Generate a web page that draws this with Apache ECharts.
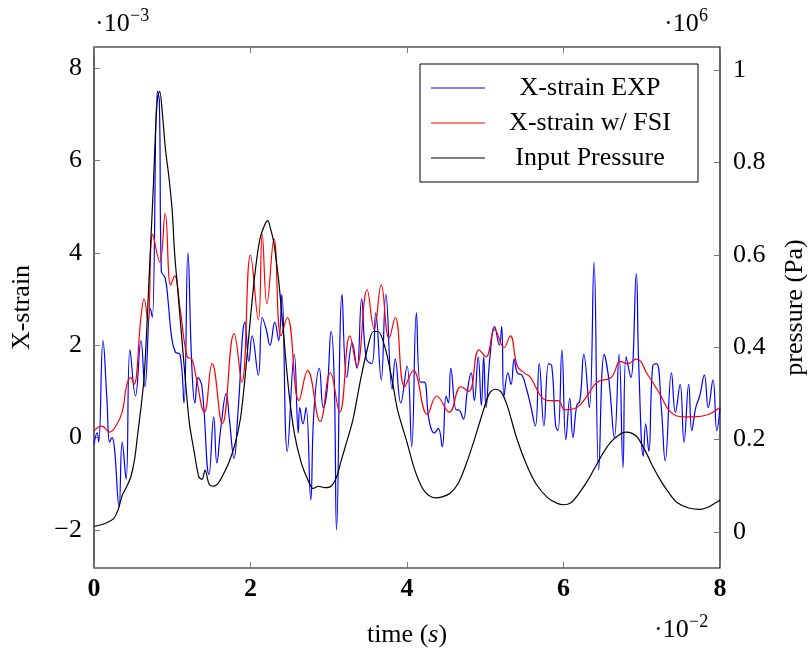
<!DOCTYPE html>
<html>
<head>
<meta charset="utf-8">
<script src="https://cdn.jsdelivr.net/npm/echarts@6.0.0/dist/echarts.min.js"></script>
<style>
  html, body { margin: 0; padding: 0; background: #fff; }
  #chart { width: 812px; height: 656px; }
</style>
</head>
<body>
<div id="chart"></div>
<script>
// time in 1e-2 s, strain in 1e-3, pressure in 1e6 Pa
var timeExp = [0, 0.04, 0.06, 0.115, 0.166, 0.2, 0.23, 0.26, 0.32, 0.36,
    0.41, 0.46, 0.53, 0.6, 0.65, 0.72, 0.745, 0.81, 0.835, 0.86,
    0.91, 0.95, 0.99, 1.04, 1.1, 1.15, 1.2, 1.25, 1.29, 1.33,
    1.38, 1.47, 1.53, 1.57, 1.62, 1.69, 1.73, 1.79, 1.84, 1.93,
    1.98, 2.02, 2.1, 2.15, 2.2, 2.25, 2.31, 2.36, 2.4, 2.47,
    2.56, 2.61, 2.63, 2.67, 2.71, 2.77, 2.81, 2.88, 2.93, 2.98,
    3.03, 3.07, 3.1, 3.17, 3.23, 3.3, 3.36, 3.42, 3.48, 3.55,
    3.6, 3.67, 3.73, 3.81, 3.85, 3.92, 4.0, 4.06, 4.12, 4.17,
    4.22, 4.28, 4.35, 4.4, 4.45, 4.5, 4.53, 4.56, 4.63, 4.66,
    4.72, 4.77, 4.82, 4.86, 4.91, 4.95, 4.98, 5.01, 5.06, 5.12,
    5.18, 5.21, 5.24, 5.29, 5.33, 5.37, 5.41, 5.47, 5.52, 5.58,
    5.64, 5.69, 5.75, 5.81, 5.85, 5.9, 5.93, 5.98, 6.03, 6.08,
    6.12, 6.17, 6.21, 6.26, 6.33, 6.39, 6.45, 6.52, 6.58, 6.65,
    6.71, 6.76, 6.8, 6.86, 6.93, 6.96, 7.02, 7.05, 7.09, 7.14,
    7.19, 7.25, 7.3, 7.38, 7.43, 7.49, 7.54, 7.6, 7.64, 7.69,
    7.74, 7.8, 7.85, 7.91, 7.96, 8.0];
var strainExp = [-0.15, 0.1, -0.1, 2.1, 0.8, -0.1, 0.0, -0.2, -1.5, -0.1,
    -0.9, 1.9, 0.9, 2.1, 1.1, 2.8, 2.6, 7.5, 7.3, 3.6,
    3.45, 2.9, 2.2, 1.85, 1.8, 0.75, 4.0, 1.55, 0.75, 1.3,
    1.1, -0.8, 0.45, -0.55, 0.2, 0.95, 0.4, -0.45, 0.55, 2.5,
    1.65, 2.2, 1.35, 2.6, 2.35, 2.0, 2.5, 2.1, 3.1, -0.3,
    1.8, 0.1, 0.65, 0.3, 0.65, -1.35, 0.55, 1.5, 0.65, 1.05,
    2.3, 1.25, -2.0, 3.1, 1.3, 2.05, 1.5, 3.0, 1.7, 1.6,
    2.7, 1.25, 3.1, 1.05, 1.7, 0.75, 1.55, -0.2, 2.7, 1.2,
    1.2, 0.4, 0.1, 0.2, -0.2, 0.9, 0.75, 1.5, 0.6, 0.6,
    0.4, 1.0, 1.4, 0.8, 1.75, 0.7, 1.75, 0.65, 1.75, 2.4,
    2.0, 2.4, 0.9, 1.4, 1.15, 1.7, 1.4, 1.35, 1.1, 0.7,
    0.25, 1.6, 0.25, 1.6, 1.55, 0.25, 0.15, 1.9, -0.05, 0.85,
    0.0, 0.7, 0.8, 1.8, 0.65, 3.8, -0.7, 1.8, 1.25, 0.0,
    1.8, -0.65, 1.75, 1.3, 3.55, 1.65, -0.4, 0.3, -0.3, 1.55,
    1.6, 0.65, -0.5, 1.4, 0.55, 1.15, -0.1, 1.15, 0.15, 0.65,
    0.9, 1.35, 0.65, 1.25, 0.15, 0.65];

var timeFsi = [0, 0.1, 0.2, 0.28, 0.36, 0.42, 0.47, 0.51, 0.6, 0.64,
    0.69, 0.75, 0.84, 0.91, 0.98, 1.03, 1.1, 1.19, 1.25, 1.3,
    1.41, 1.51, 1.64, 1.79, 1.89, 2.0, 2.1, 2.15, 2.21, 2.3,
    2.39, 2.47, 2.62, 2.73, 2.89, 3.02, 3.14, 3.27, 3.36, 3.49,
    3.58, 3.67, 3.77, 3.85, 3.97, 4.08, 4.26, 4.38, 4.54, 4.69,
    4.79, 4.92, 5.01, 5.12, 5.24, 5.32, 5.41, 5.5, 5.58, 5.71,
    5.8, 5.93, 6.02, 6.17, 6.3, 6.43, 6.61, 6.73, 6.82, 6.93,
    7.08, 7.23, 7.37, 7.54, 7.67, 7.85, 8.0];
var strainFsi = [0.15, 0.25, 0.12, 0.25, 0.55, 1.15, 1.3, 1.15, 2.6, 3.0,
    2.5, 4.4, 3.8, 4.85, 3.3, 3.5, 2.8, 1.75, 1.7, 1.35,
    0.55, 1.6, 0.3, 2.25, 1.2, 3.95, 2.55, 4.4, 2.9, 4.3,
    2.2, 2.6, 0.8, 1.45, 0.35, 1.4, 0.55, 2.2, 1.55, 3.2,
    2.35, 3.3, 2.15, 2.6, 1.1, 1.45, 0.5, 0.9, 0.55, 1.1,
    1.0, 1.9, 1.75, 2.35, 1.95, 2.2, 1.55, 1.4, 1.3, 0.9,
    0.8, 0.8, 0.6, 0.65, 0.9, 1.2, 1.3, 1.65, 1.6, 1.7,
    1.35, 0.95, 0.55, 0.45, 0.45, 0.5, 0.65];

var timePressure = [0, 0.15, 0.25, 0.31, 0.36, 0.42, 0.47, 0.52, 0.56, 0.6,
    0.64, 0.67, 0.7, 0.73, 0.76, 0.79, 0.815, 0.84, 0.87, 0.91,
    0.96, 1.0, 1.03, 1.07, 1.12, 1.17, 1.22, 1.28, 1.34, 1.38,
    1.42, 1.47, 1.52, 1.58, 1.65, 1.72, 1.8, 1.87, 1.93, 2.0,
    2.06, 2.12, 2.18, 2.22, 2.26, 2.3, 2.36, 2.43, 2.49, 2.56,
    2.65, 2.73, 2.8, 2.87, 2.95, 3.03, 3.1, 3.15, 3.21, 3.31,
    3.4, 3.49, 3.57, 3.63, 3.72, 3.81, 3.88, 4.0, 4.1, 4.2,
    4.28, 4.36, 4.45, 4.55, 4.65, 4.75, 4.85, 4.95, 5.05,
    5.12, 5.2, 5.28, 5.4, 5.52, 5.65, 5.8, 5.92, 6.0, 6.1,
    6.2, 6.3, 6.4, 6.5, 6.6, 6.7, 6.8, 6.87, 6.95, 7.05,
    7.15, 7.25, 7.35, 7.45, 7.6, 7.75, 7.85, 7.95, 8.0];
var pressure = [0.012, 0.019, 0.029, 0.049, 0.079, 0.099, 0.119, 0.159, 0.214, 0.269,
    0.334, 0.424, 0.534, 0.644, 0.754, 0.884, 0.944, 0.954, 0.914, 0.834,
    0.764, 0.694, 0.604, 0.524, 0.424, 0.324, 0.234, 0.174, 0.119, 0.114,
    0.134, 0.104, 0.099, 0.104, 0.124, 0.149, 0.189, 0.244, 0.334, 0.464,
    0.564, 0.634, 0.664, 0.674, 0.654, 0.624, 0.544, 0.414, 0.304, 0.214,
    0.149, 0.114, 0.094, 0.099, 0.096, 0.099, 0.119, 0.149, 0.184, 0.244,
    0.324, 0.394, 0.434, 0.434, 0.399, 0.329, 0.264, 0.194, 0.134, 0.094,
    0.079, 0.074, 0.076, 0.084, 0.104, 0.144, 0.194, 0.249, 0.299,
    0.309, 0.304, 0.274, 0.204, 0.149, 0.104, 0.074, 0.062, 0.059, 0.064,
    0.084, 0.109, 0.139, 0.169, 0.194, 0.209, 0.216, 0.214, 0.204, 0.174,
    0.139, 0.109, 0.084, 0.064, 0.052, 0.049, 0.054, 0.064, 0.069];

var xTicks = [0, 2, 4, 6, 8];
var strainTicks = [-2, 0, 2, 4, 6, 8];
var pressureTicks = [0, 0.2, 0.4, 0.6, 0.8, 1];
var seriesNames = ['X-strain EXP', 'X-strain w/ FSI', 'Input Pressure'];

function pairs(xs, ys) {
    var out = [];
    for (var i = 0; i < xs.length; i++) out.push([xs[i], ys[i]]);
    return out;
}
function fmt(v) {
    var s = String(Math.round(v * 1000) / 1000);
    return s.replace('-', '\u2212');
}

var FONT = 'Liberation Serif';
var tickStyle = { inside: true, length: 6, lineStyle: { color: '#777', width: 1 } };

var myChart = echarts.init(document.getElementById('chart'));
var option = {
    backgroundColor: '#fff',
    animation: false,
    grid: {
        left: 94, top: 47, width: 626, height: 521,
        outerBoundsMode: 'none',
        show: true, borderColor: '#000', borderWidth: 1.2
    },
    legend: {
        orient: 'vertical',
        left: 420, top: 64,
        padding: [9, 8, 9, 11],
        icon: 'rect',
        itemWidth: 54, itemHeight: 1.2, itemGap: 5,
        borderColor: '#000', borderWidth: 1, backgroundColor: '#fff',
        selectedMode: false,
        data: seriesNames,
        formatter: function (name) { return '{c|' + name + '}'; },
        textStyle: {
            fontFamily: FONT, fontSize: 26, color: '#000', lineHeight: 30,
            rich: { c: { width: 200, align: 'center', fontFamily: FONT, fontSize: 26, lineHeight: 30 } }
        }
    },
    xAxis: [
        {
            type: 'value', min: 0, max: 8, interval: 2, position: 'bottom',
            axisLine: { show: false, onZero: false }, splitLine: { show: false },
            axisTick: tickStyle,
            axisLabel: { fontFamily: FONT, fontSize: 26, color: '#000', fontWeight: 'bold', margin: 8,
                customValues: xTicks, formatter: fmt },
            name: '{n|time (}{i|s}{n|)}',
            nameLocation: 'middle', nameGap: 54,
            nameTextStyle: { rich: {
                n: { fontFamily: FONT, fontSize: 26, color: '#000' },
                i: { fontFamily: FONT, fontSize: 26, color: '#000', fontStyle: 'italic' }
            } }
        },
        {
            type: 'value', min: 0, max: 8, interval: 2, position: 'top',
            axisLine: { show: false, onZero: false }, splitLine: { show: false },
            axisTick: tickStyle, axisLabel: { show: false }
        }
    ],
    yAxis: [
        {
            type: 'value', min: -2.823, max: 8.455, position: 'left',
            axisLine: { show: false, onZero: false }, splitLine: { show: false },
            axisTick: { inside: true, length: 6, lineStyle: { color: '#777' }, customValues: strainTicks },
            axisLabel: { fontFamily: FONT, fontSize: 26, color: '#000', margin: 12,
                customValues: strainTicks, formatter: fmt },
            name: 'X-strain', nameLocation: 'middle', nameRotate: 90, nameGap: 59,
            nameTextStyle: { fontFamily: FONT, fontSize: 26, color: '#000' }
        },
        {
            type: 'value', min: -0.0779, max: 1.0498, position: 'right',
            axisLine: { show: false, onZero: false }, splitLine: { show: false },
            axisTick: { inside: true, length: 6, lineStyle: { color: '#777' }, customValues: pressureTicks },
            axisLabel: { fontFamily: FONT, fontSize: 26, color: '#000', margin: 13,
                customValues: pressureTicks, formatter: fmt },
            name: 'pressure (Pa)', nameLocation: 'middle', nameRotate: 90, nameGap: 62,
            nameTextStyle: { fontFamily: FONT, fontSize: 26, color: '#000' }
        }
    ],
    graphic: [
        { type: 'text', x: 95, y: 24, style: { text: '\u00b710', fontFamily: FONT, fontSize: 26, fill: '#000', textVerticalAlign: 'middle' } },
        { type: 'text', x: 130, y: 16, style: { text: '\u22123', fontFamily: FONT, fontSize: 18, fill: '#000', textVerticalAlign: 'middle' } },
        { type: 'text', x: 664, y: 24, style: { text: '\u00b710', fontFamily: FONT, fontSize: 26, fill: '#000', textVerticalAlign: 'middle' } },
        { type: 'text', x: 699, y: 16, style: { text: '6', fontFamily: FONT, fontSize: 18, fill: '#000', textVerticalAlign: 'middle' } },
        { type: 'text', x: 654, y: 630, style: { text: '\u00b710', fontFamily: FONT, fontSize: 26, fill: '#000', textVerticalAlign: 'middle' } },
        { type: 'text', x: 689, y: 622, style: { text: '\u22122', fontFamily: FONT, fontSize: 18, fill: '#000', textVerticalAlign: 'middle' } }
    ],
    series: [
        {
            name: seriesNames[0], type: 'line', xAxisIndex: 0, yAxisIndex: 0,
            data: pairs(timeExp, strainExp), symbol: 'none', smooth: 0.45,
            color: '#0000ff', lineStyle: { color: '#0000ff', width: 1.2 }
        },
        {
            name: seriesNames[1], type: 'line', xAxisIndex: 0, yAxisIndex: 0,
            data: pairs(timeFsi, strainFsi), symbol: 'none', smooth: 0.45,
            color: '#ff0000', lineStyle: { color: '#ff0000', width: 1.2 }
        },
        {
            name: seriesNames[2], type: 'line', xAxisIndex: 0, yAxisIndex: 1,
            data: pairs(timePressure, pressure), symbol: 'none', smooth: 0.3,
            color: '#000', lineStyle: { color: '#000', width: 1.2 }
        }
    ]
};
myChart.setOption(option);
</script>
</body>
</html>
